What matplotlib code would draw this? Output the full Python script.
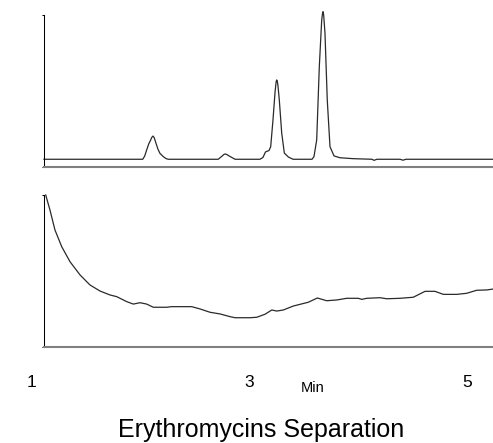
import matplotlib
matplotlib.use("Agg")
import matplotlib.pyplot as plt
from matplotlib.transforms import blended_transform_factory

plt.rcParams['font.family'] = ['Liberation Sans', 'DejaVu Sans']

# Upper trace: retention time (min) and detector signal
upper_time = [1.119, 2.025, 2.043, 2.061, 2.080, 2.098, 2.108, 2.119, 2.130, 2.147, 2.165,
              2.183, 2.214, 2.240, 2.260,
              2.718, 2.748, 2.770, 2.783, 2.797, 2.817, 2.872,
              3.101, 3.128, 3.151, 3.170, 3.183, 3.199, 3.220, 3.239, 3.249, 3.254,
              3.260, 3.266, 3.278, 3.300, 3.324, 3.361, 3.404,
              3.578, 3.596, 3.621, 3.645, 3.667, 3.674, 3.679, 3.685, 3.697, 3.718,
              3.743, 3.780, 3.835, 3.954, 4.128, 4.147, 4.174, 4.385, 4.413, 4.440, 5.239]
upper_signal = [4.9, 4.9, 7.0, 11.0, 15.0, 17.6, 19.3, 20.2, 19.2, 15.4, 11.5,
                8.8, 6.6, 5.3, 4.9,
                4.9, 6.7, 8.1, 8.4, 8.0, 7.1, 4.9,
                4.9, 6.1, 9.7, 10.3, 10.6, 13.2, 30.8, 49.2, 56.0, 57.2,
                56.3, 53.2, 44.0, 22.2, 9.0, 6.4, 4.9,
                4.9, 6.6, 17.6, 65.9, 96.7, 100.8, 102.2, 100.0, 88.1, 44.0,
                13.2, 7.1, 5.9, 5.3, 4.9, 4.2, 4.9, 4.9, 4.3, 4.9, 4.9]

# Lower trace: retention time (min) and detector signal
lower_time = [1.135, 1.174, 1.220, 1.282, 1.358, 1.450, 1.541, 1.633, 1.725,
              1.786, 1.878, 1.939, 2.000, 2.061, 2.122, 2.245, 2.291, 2.474,
              2.550, 2.642, 2.734, 2.826, 2.872, 3.009, 3.071, 3.147, 3.209,
              3.254, 3.315, 3.406, 3.544, 3.627, 3.713, 3.805, 3.896, 4.003,
              4.034, 4.080, 4.202, 4.263, 4.385, 4.507, 4.615, 4.706, 4.783,
              4.906, 4.997, 5.089, 5.181, 5.239]
lower_signal = [100.0, 90.1, 76.9, 65.9, 56.0, 47.3, 40.7, 36.7, 34.1,
                33.0, 29.7, 28.1, 29.0, 28.1, 26.0, 26.0, 26.4, 26.4,
                24.9, 22.7, 21.6, 19.8, 19.1, 19.1, 19.4, 21.4, 24.2,
                23.5, 24.2, 26.8, 29.3, 32.1, 30.3, 30.8, 31.9, 31.9,
                31.2, 31.9, 32.3, 31.6, 31.9, 32.6, 36.5, 36.5, 34.5,
                34.5, 35.2, 37.2, 37.4, 38.0]

time_ticks = [1, 3, 5]
time_labels = ["1", "3", "5"]
x_unit = "Min"
title = "Erythromycins Separation"

W, H = 493, 443
fig = plt.figure(figsize=(W / 100, H / 100), dpi=100)

left = 43.7 / W
width = 1 - left
ax_h = 151.7 / H
ax_top = fig.add_axes([left, (H - 166.7) / H, width, ax_h])
ax_bot = fig.add_axes([left, (H - 346.7) / H, width, ax_h])

xlim = (1.1165, 5.2385)
line_color = "#2a2a2a"
for ax, t, s in ((ax_top, upper_time, upper_signal), (ax_bot, lower_time, lower_signal)):
    ax.plot(t, s, color=line_color, lw=0.9, clip_on=False, solid_joinstyle='round')
    ax.set_xlim(*xlim)
    ax.set_ylim(0, 100)
    ax.spines['top'].set_visible(False)
    ax.spines['right'].set_visible(False)
    ax.spines['left'].set_color("black")
    ax.spines['left'].set_linewidth(0.75)
    ax.spines['bottom'].set_color("#808080")
    ax.spines['bottom'].set_linewidth(1.5)
    ax.set_xticks([])
    ax.set_yticks([0, 100])
    ax.set_yticklabels([])
    ax.tick_params(axis='y', length=1.8, width=0.75, color="black")
    ax.patch.set_visible(False)

# Time axis labels below the lower panel
trans = blended_transform_factory(ax_bot.transData, fig.transFigure)
for tk, lab in zip(time_ticks, time_labels):
    ax_bot.text(tk, (H - 386.7) / H, lab, transform=trans, ha='center', va='baseline',
                fontsize=12.5, color="black", clip_on=False)
ax_bot.text(3.587, (H - 391.7) / H, x_unit, transform=trans, ha='center', va='baseline',
            fontsize=10.5, color="black", clip_on=False)

fig.text(261.3 / W, (H - 437.3) / H, title, ha='center', va='baseline',
         fontsize=18, color="black")

fig.savefig("out.png", dpi=100)
